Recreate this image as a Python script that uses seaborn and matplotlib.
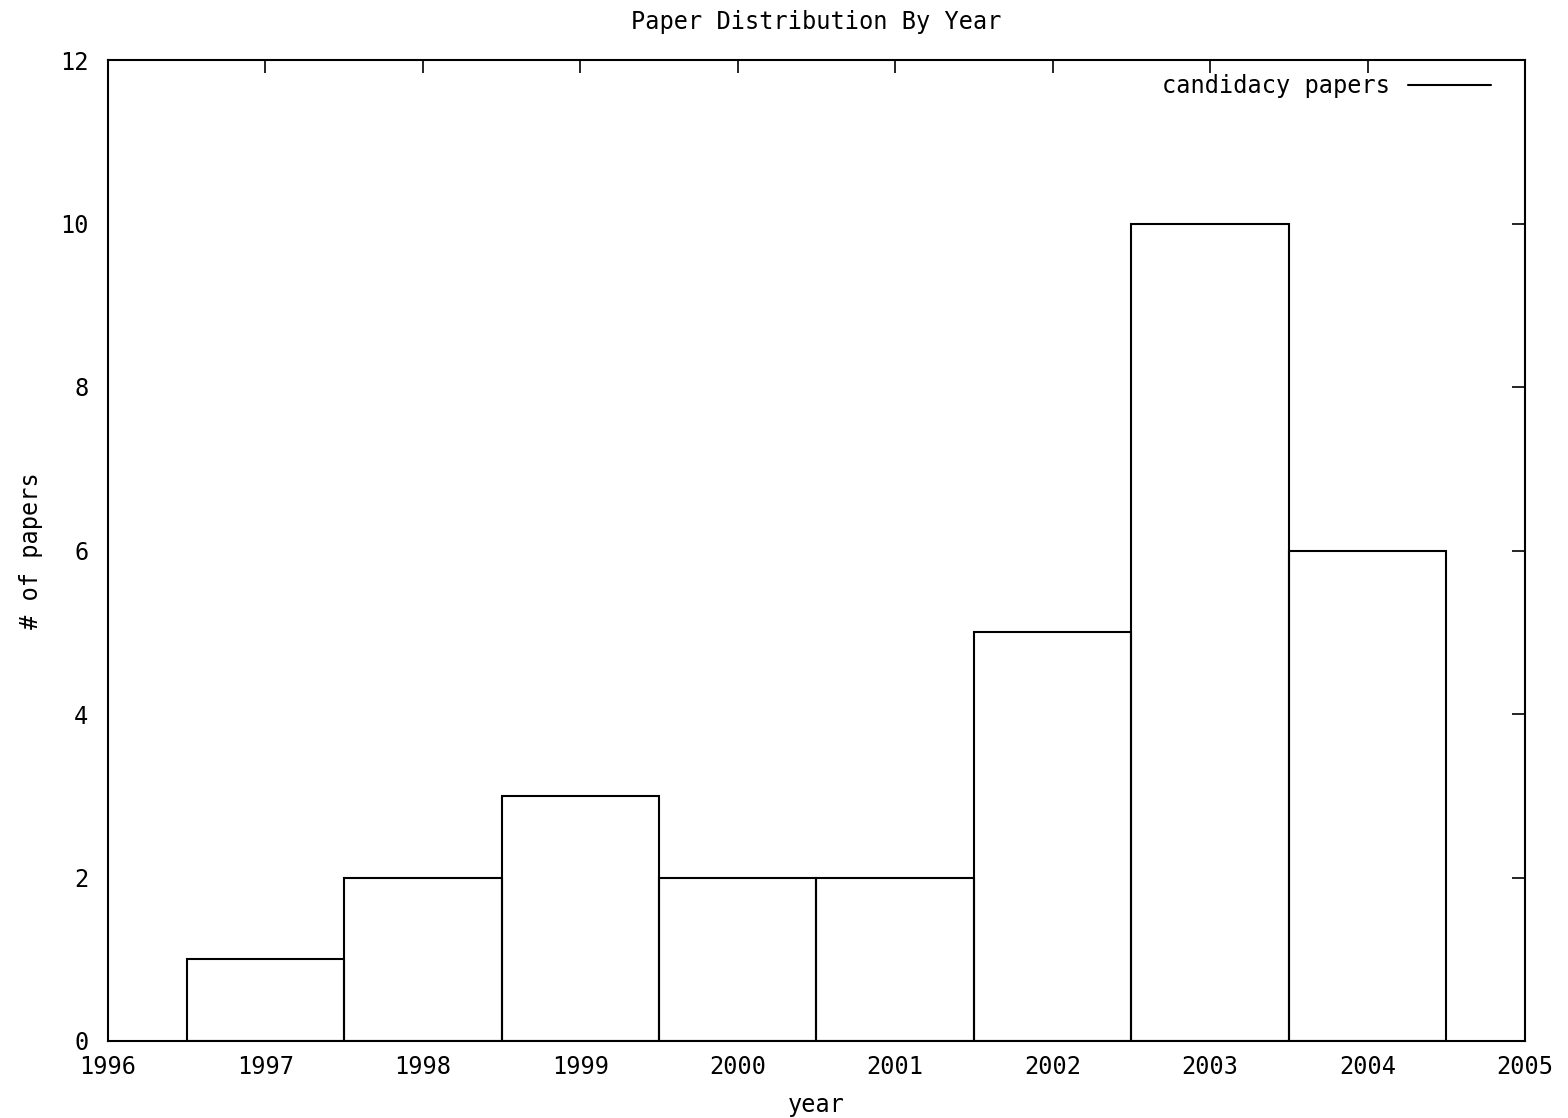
import matplotlib
matplotlib.use('Agg')
import matplotlib.pyplot as plt
from matplotlib.lines import Line2D
import seaborn as sns

years = [1997, 1998, 1999, 2000, 2001, 2002, 2003, 2004]
papers = [1, 2, 3, 2, 2, 5, 10, 6]
xticks = list(range(1996, 2006))
yticks = [0, 2, 4, 6, 8, 10, 12]

sns.set_style('white')
plt.rcParams['font.family'] = ['DejaVu Sans Mono']
plt.rcParams['text.color'] = 'black'
plt.rcParams['axes.labelcolor'] = 'black'
FS = 17

fig = plt.figure(figsize=(15.68, 11.18), dpi=100)
ax = fig.add_axes([108/1568, 1 - 1041/1118, (1525-108)/1568, (1041-60)/1118])

sns.histplot(x=years, weights=papers, discrete=True, fill=False, color='black',
             linewidth=1.5, ax=ax)

ax.set_xlim(1996, 2005)
ax.set_ylim(0, 12)
ax.set_xticks(xticks)
ax.set_yticks(yticks)
ax.set_xticklabels([str(x) for x in xticks], fontsize=FS)
ax.set_yticklabels([str(y) for y in yticks], fontsize=FS)
ax.tick_params(direction='in', length=9.5, width=1.2, top=True, right=True,
               colors='black')
ax.tick_params(axis='x', pad=10)
ax.tick_params(axis='y', pad=14)
for s in ax.spines.values():
    s.set_visible(True)
    s.set_color('black')
    s.set_linewidth(1.5)

ax.set_xlabel('year', fontsize=FS, labelpad=10)
ax.set_ylabel('# of papers', fontsize=FS, labelpad=12)
ax.set_title('Paper Distribution By Year', fontsize=FS, pad=22)

handle = Line2D([], [], color='black', linewidth=1.5)
ax.legend(handles=[handle], labels=['candidacy papers'], loc='upper right',
          bbox_to_anchor=(1 - 8/1417, 1 + 12/981),
          frameon=False, markerfirst=False, fontsize=FS, handlelength=3.5,
          handletextpad=0.8, borderaxespad=0.7)

fig.savefig('out.png', dpi=100)
